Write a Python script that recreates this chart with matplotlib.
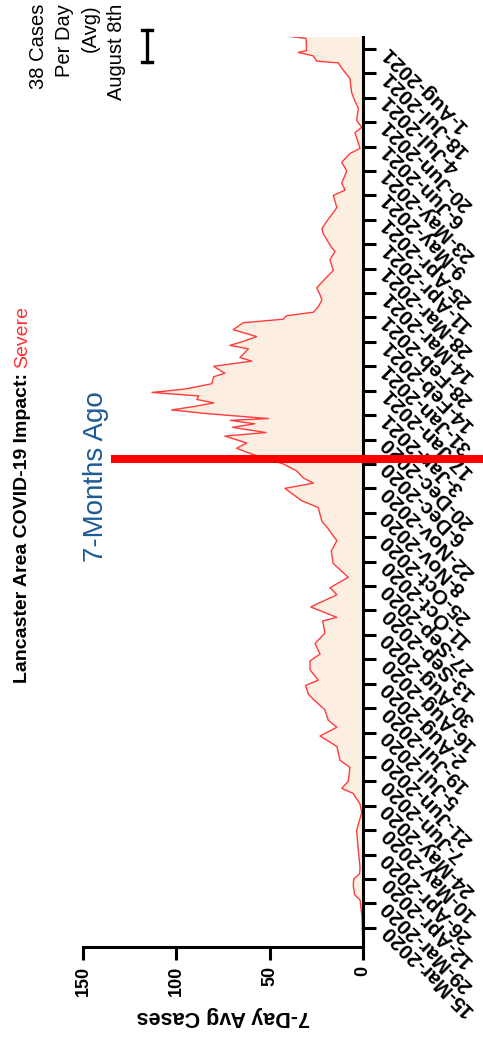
import datetime as dt
import matplotlib
matplotlib.use("Agg")
import matplotlib.pyplot as plt
import matplotlib.dates as mdates
from matplotlib.lines import Line2D

plt.rcParams['font.family'] = ['Liberation Sans', 'DejaVu Sans']

# ---------------- data ----------------
dates = [
    "2020-03-04", "2020-03-12", "2020-03-21", "2020-03-31", "2020-04-03", "2020-04-08",
    "2020-04-12", "2020-04-15", "2020-04-19", "2020-04-28", "2020-05-10", "2020-05-20",
    "2020-05-25", "2020-05-31", "2020-06-03", "2020-06-07", "2020-06-15", "2020-06-19",
    "2020-06-27", "2020-07-03", "2020-07-08", "2020-07-12", "2020-07-18", "2020-07-24",
    "2020-07-27", "2020-08-01", "2020-08-04", "2020-08-10", "2020-08-15", "2020-08-19",
    "2020-08-25", "2020-08-31", "2020-09-07", "2020-09-09", "2020-09-15", "2020-09-22",
    "2020-09-26", "2020-10-02", "2020-10-10", "2020-10-17", "2020-10-23", "2020-10-31",
    "2020-11-03", "2020-11-11", "2020-11-15", "2020-11-22", "2020-11-25", "2020-11-28",
    "2020-12-02", "2020-12-06", "2020-12-09", "2020-12-12", "2020-12-15", "2020-12-18",
    "2020-12-22", "2020-12-24", "2020-12-27", "2020-12-29", "2020-12-31", "2021-01-01",
    "2021-01-04", "2021-01-06", "2021-01-08", "2021-01-10", "2021-01-12", "2021-01-14",
    "2021-01-16", "2021-01-18", "2021-01-21", "2021-01-25", "2021-01-27", "2021-01-31",
    "2021-02-03", "2021-02-05", "2021-02-10", "2021-02-12", "2021-02-14", "2021-02-17",
    "2021-02-21", "2021-02-25", "2021-02-27", "2021-03-01", "2021-03-03", "2021-03-06",
    "2021-03-10", "2021-03-13", "2021-03-17", "2021-03-21", "2021-03-27", "2021-04-02",
    "2021-04-07", "2021-04-09", "2021-04-17", "2021-04-20", "2021-04-24", "2021-05-02",
    "2021-05-09", "2021-05-12", "2021-05-16", "2021-05-23", "2021-05-28", "2021-06-02",
    "2021-06-05", "2021-06-11", "2021-06-14", "2021-06-17", "2021-06-21", "2021-06-28",
    "2021-07-02", "2021-07-07", "2021-07-15", "2021-07-21", "2021-07-24", "2021-07-25",
    "2021-07-28", "2021-07-30", "2021-07-31", "2021-08-07", "2021-08-08",
]
cases = [
    0.0, 0.3, 0.5, 1.6, 4.5, 5.2,
    5.0, 1.8, 1.6, 2.5, 3.4, 0.7,
    1.6, 5.2, 11.4, 7.9, 7.0, 12.3,
    14.0, 23.0, 14.0, 18.6, 20.4, 26.6,
    29.3, 30.7, 24.0, 28.4, 28.4, 23.0,
    25.7, 20.4, 21.6, 14.0, 28.0, 14.0,
    17.7, 7.9, 16.0, 17.0, 14.0, 19.5,
    22.0, 24.0, 33.0, 41.8, 26.6, 32.0,
    35.5, 42.7, 51.6, 60.5, 67.7, 62.3,
    74.0, 52.0, 70.0, 58.0, 71.0, 50.7,
    85.0, 102.5, 90.0, 80.0, 89.0, 88.0,
    113.0, 95.0, 81.0, 80.0, 74.0, 80.0,
    59.6, 65.9, 61.4, 71.3, 65.0, 57.0,
    69.5, 64.1, 42.7, 40.9, 26.6, 24.0,
    22.0, 23.0, 24.8, 21.3, 15.9, 17.7,
    15.0, 16.8, 21.3, 22.0, 19.5, 14.0,
    15.9, 9.6, 11.4, 8.7, 11.4, 7.0,
    1.6, 3.4, 4.3, 0.7, 3.4, 2.5,
    4.3, 6.1, 7.0, 11.4, 13.2, 24.8,
    26.6, 34.7, 30.2, 30.5, 38.0,
]
tick_labels = [
    "15-Mar-2020", "29-Mar-2020", "12-Apr-2020", "26-Apr-2020", "10-May-2020",
    "24-May-2020", "7-Jun-2020", "21-Jun-2020", "5-Jul-2020", "19-Jul-2020",
    "2-Aug-2020", "16-Aug-2020", "30-Aug-2020", "13-Sep-2020", "27-Sep-2020",
    "11-Oct-2020", "25-Oct-2020", "8-Nov-2020", "22-Nov-2020", "6-Dec-2020",
    "20-Dec-2020", "3-Jan-2021", "17-Jan-2021", "31-Jan-2021", "14-Feb-2021",
    "28-Feb-2021", "14-Mar-2021", "28-Mar-2021", "11-Apr-2021", "25-Apr-2021",
    "9-May-2021", "23-May-2021", "6-Jun-2021", "20-Jun-2021", "4-Jul-2021",
    "18-Jul-2021", "1-Aug-2021",
]
value_ticks = [0, 50, 100, 150]
date_range = ["2020-03-04", "2021-08-08"]
marker_date = "2020-12-09"
marker_text = "7-Months Ago"
title_main = "Lancaster Area COVID-19 Impact:"
title_level = "Severe"
legend_lines = ["38 Cases", "Per Day", "(Avg)", "August 8th"]
value_label = "7-Day Avg Cases"

# ---------------- figure ----------------
W, H = 483, 1038
fig = plt.figure(figsize=(W / 100, H / 100), dpi=100)
ax = fig.add_axes([83 / W, 91 / H, 280 / W, 910.3 / H])

d = mdates.datestr2num(dates)
ax.fill_betweenx(d, cases, 0, color='#FDEEE2', lw=0, zorder=1)
ax.plot(cases, d, color='#FF3B3B', lw=1.0, zorder=2)

ax.set_xlim(max(value_ticks), 0)
ax.set_ylim(mdates.datestr2num(date_range[0]), mdates.datestr2num(date_range[1]))

for s in ['top', 'left']:
    ax.spines[s].set_visible(False)
for s in ['right', 'bottom']:
    ax.spines[s].set_linewidth(2.2)
    ax.spines[s].set_color('black')

ax.yaxis.tick_right()
tick_pos = [mdates.date2num(dt.datetime.strptime(t, "%d-%b-%Y")) for t in tick_labels]
ax.set_yticks(tick_pos, labels=tick_labels, rotation=135, ha='right', va='center',
              rotation_mode='anchor', fontsize=15, fontweight='bold')
ax.tick_params(axis='y', which='major', direction='out', length=9, width=2.2, pad=6)
ax.tick_params(axis='y', which='minor', length=0)

ax.set_xticks(value_ticks, labels=[str(v) for v in value_ticks], rotation=90,
              fontsize=13, fontweight='bold')
ax.tick_params(axis='x', direction='out', length=9.5, width=2.2, pad=4)
ax.set_xlabel(value_label, rotation=180, fontsize=15.5, fontweight='bold', labelpad=7)

# 7-months-ago marker line
ax.axhline(mdates.datestr2num(marker_date), xmin=0.114, xmax=1.45, color='#FF0000',
           lw=5.8, clip_on=False, zorder=5)
fig.text(103 / W, 1 - 476.5 / H, marker_text, rotation=90, rotation_mode='anchor',
         ha='center', va='baseline', fontsize=20, color='#1D5B94')

# title (two colours)
t1 = fig.text(27 / W, 1 - 683 / H, title_main, rotation=90, rotation_mode='anchor',
              ha='left', va='baseline', fontsize=14, fontweight='bold', color='black')
fig.canvas.draw()
bb = t1.get_window_extent(fig.canvas.get_renderer())
fig.text(27 / W, (bb.y1 + 5) / H, title_level, rotation=90, rotation_mode='anchor',
         ha='left', va='baseline', fontsize=14, color='#FF3030')

# legend text + I-bar
for i, line in enumerate(legend_lines):
    fig.text((44 + 26 * i) / W, 1 - 4 / H, line, rotation=90, rotation_mode='anchor',
             ha='right', va='baseline', fontsize=14.5, color='black')
bx = 147 / W
fig.add_artist(Line2D([bx, bx], [1 - 30 / H, 1 - 62 / H], color='black', lw=2.4,
                      transform=fig.transFigure))
for yy in (30, 62):
    fig.add_artist(Line2D([bx - 5 / W, bx + 5 / W], [1 - yy / H, 1 - yy / H],
                          color='black', lw=2.4, transform=fig.transFigure))

fig.savefig("out.png", dpi=100)
